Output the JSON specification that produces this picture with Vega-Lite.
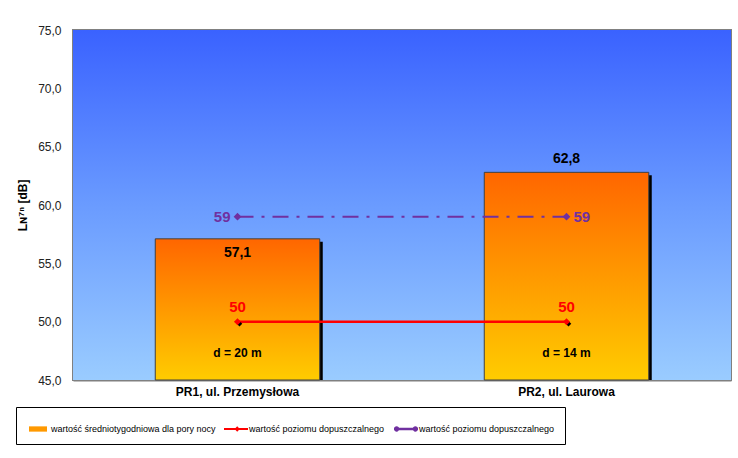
{
  "$schema": "https://vega.github.io/schema/vega-lite/v6.json",
  "autosize": "none",
  "width": 658,
  "height": 350,
  "padding": {"left": 73, "top": 30, "right": 7, "bottom": 78},
  "background": "white",
  "config": {
    "locale": {"number": {"decimal": ",", "thousands": " ", "grouping": [3], "currency": ["", " zł"]}},
    "font": "Liberation Sans",
    "view": {"stroke": "#808080", "strokeWidth": 2},
    "legend": {
      "orient": "none",
      "legendX": -57,
      "legendY": 377,
      "direction": "horizontal",
      "strokeColor": "#000000",
      "padding": 10,
      "columnPadding": 8,
      "labelOffset": 1,
      "labelFont": "Liberation Sans",
      "labelFontSize": 9,
      "labelColor": "#000000",
      "symbolSize": 576,
      "symbolStrokeWidth": 0,
      "labelLimit": 400
    }
  },
  "datasets": {
    "bars": [
      {"site": "PR1, ul. Przemysłowa", "value": 57.1, "d": "d = 20 m", "limit": 50, "limit2": 59},
      {"site": "PR2, ul. Laurowa", "value": 62.8, "d": "d = 14 m", "limit": 50, "limit2": 59}
    ],
    "legend": [
      {"series": "s1", "site": "PR1, ul. Przemysłowa", "v": 30},
      {"series": "s2", "site": "PR1, ul. Przemysłowa", "v": 30},
      {"series": "s3", "site": "PR1, ul. Przemysłowa", "v": 30}
    ]
  },
  "data": {"name": "bars"},
  "encoding": {
    "x": {
      "field": "site",
      "type": "nominal",
      "sort": null,
      "scale": {"paddingInner": 0, "paddingOuter": 0},
      "axis": {
        "title": null,
        "labelAngle": 0,
        "labelFont": "Liberation Sans",
        "labelFontWeight": "bold",
        "labelFontSize": 12,
        "labelColor": "#000000",
        "labelPadding": 6,
        "ticks": false,
        "domainColor": "#808080",
        "domainWidth": 2
      }
    }
  },
  "layer": [
    {
      "mark": {
        "type": "rect",
        "color": {
          "gradient": "linear", "x1": 0, "y1": 0, "x2": 0, "y2": 1,
          "stops": [{"offset": 0, "color": "#3A62FF"}, {"offset": 0.5, "color": "#6A9BFF"}, {"offset": 1, "color": "#9ACCFF"}]
        }
      },
      "encoding": {
        "x": null,
        "y": {
          "datum": 75,
          "type": "quantitative",
          "scale": {"domain": [45, 75], "nice": false, "zero": false},
          "axis": {
            "values": [45, 50, 55, 60, 65, 70, 75],
            "format": ".1f",
            "title": "Lɴ⁷ⁿ [dB]",
            "titleFont": "Liberation Sans",
            "titleFontSize": 12,
            "titleFontWeight": "bold",
            "titleColor": "#000000",
            "titlePadding": 8,
            "labelFont": "Liberation Sans",
            "labelFontSize": 12,
            "labelColor": "#222222",
            "labelPadding": 12,
            "grid": false,
            "ticks": false,
            "domainColor": "#808080",
            "domainWidth": 2
          }
        },
        "y2": {"datum": 45}
      }
    },
    {
      "mark": {"type": "bar", "color": "#000000", "width": {"band": 0.5}, "xOffset": 3, "yOffset": 3, "clip": true},
      "encoding": {"y": {"field": "value", "type": "quantitative"}, "y2": {"datum": 45}}
    },
    {
      "mark": {
        "type": "bar",
        "width": {"band": 0.5},
        "stroke": "#404040",
        "strokeWidth": 1,
        "color": {
          "gradient": "linear", "x1": 0, "y1": 0, "x2": 0, "y2": 1,
          "stops": [{"offset": 0, "color": "#FF6600"}, {"offset": 1, "color": "#FFCC00"}]
        }
      },
      "encoding": {"y": {"field": "value", "type": "quantitative"}, "y2": {"datum": 45}}
    },
    {
      "mark": {
        "type": "text", "fontWeight": "bold", "fontSize": 14, "color": "#000000",
        "dy": {"expr": "datum.value < 60 ? 14 : -13"}
      },
      "encoding": {
        "y": {"field": "value", "type": "quantitative"},
        "text": {"field": "value", "type": "quantitative", "format": ".1f"}
      }
    },
    {
      "mark": {"type": "text", "fontWeight": "bold", "fontSize": 12, "color": "#000000"},
      "encoding": {"y": {"datum": 47.3}, "text": {"field": "d"}}
    },
    {
      "mark": {"type": "line", "color": "#FF0000", "strokeWidth": 2.5},
      "encoding": {"y": {"field": "limit", "type": "quantitative"}}
    },
    {
      "mark": {"type": "point", "shape": "diamond", "filled": true, "color": "#000000", "size": 30, "opacity": 1, "xOffset": 2, "yOffset": 2},
      "encoding": {"y": {"field": "limit", "type": "quantitative"}}
    },
    {
      "mark": {"type": "point", "shape": "diamond", "filled": true, "color": "#FF0000", "size": 50, "opacity": 1},
      "encoding": {"y": {"field": "limit", "type": "quantitative"}}
    },
    {
      "mark": {"type": "text", "fontWeight": "bold", "fontSize": 15, "color": "#FF0000", "dy": -15},
      "encoding": {"y": {"field": "limit", "type": "quantitative"}, "text": {"field": "limit"}}
    },
    {
      "mark": {"type": "line", "color": "#7030A0", "strokeWidth": 2, "strokeDash": [16, 8, 3, 8]},
      "encoding": {"y": {"field": "limit2", "type": "quantitative"}}
    },
    {
      "mark": {"type": "point", "shape": "diamond", "filled": true, "color": "#7030A0", "size": 60, "opacity": 1},
      "encoding": {"y": {"field": "limit2", "type": "quantitative"}}
    },
    {
      "mark": {
        "type": "text", "fontWeight": "bold", "fontSize": 15, "color": "#7030A0",
        "align": {"expr": "datum.value < 60 ? 'right' : 'left'"},
        "dx": {"expr": "datum.value < 60 ? -7 : 7"}
      },
      "encoding": {"y": {"field": "limit2", "type": "quantitative"}, "text": {"field": "limit2"}}
    },
    {
      "data": {"name": "legend"},
      "mark": {"type": "point", "filled": true, "opacity": 1, "clip": true},
      "encoding": {
        "y": {"field": "v", "type": "quantitative"},
        "color": {
          "field": "series",
          "type": "nominal",
          "scale": {"domain": ["s1", "s2", "s3"], "range": ["#FF9900", "#FF0000", "#7030A0"]},
          "legend": {
            "title": null,
            "labelExpr": "datum.value === 's1' ? 'wartość średniotygodniowa dla pory nocy' : 'wartość poziomu dopuszczalnego'",
            "encode": {
              "symbols": {
                "update": {
                  "fill": [
                    {"test": "datum.value === 's1'", "value": {"gradient": "linear", "x1": 0, "y1": 0, "x2": 0, "y2": 1, "stops": [{"offset": 0, "color": "#FF6600"}, {"offset": 1, "color": "#FFCC00"}]}},
                    {"scale": "color", "field": "value"}
                  ],
                  "stroke": [
                    {"test": "datum.value === 's1'", "value": "#000000"},
                    {"value": "transparent"}
                  ],
                  "strokeWidth": {"value": 1}
                }
              }
            }
          }
        },
        "shape": {
          "field": "series",
          "type": "nominal",
          "scale": {
            "domain": ["s1", "s2", "s3"],
            "range": [
              "M-0.75,-0.22H0.75V0.22H-0.75Z",
              "M-1,-0.08H1V0.08H-1Z M0.1,-0.22L0.32,0L0.1,0.22L-0.12,0Z",
              "M-1,-0.1H1V0.1H-1Z M-1,0A0.22,0.22 0 1,1 -0.56,0A0.22,0.22 0 1,1 -1,0Z M0.56,0A0.22,0.22 0 1,1 1,0A0.22,0.22 0 1,1 0.56,0Z"
            ]
          },
          "legend": {
            "title": null,
            "labelExpr": "datum.value === 's1' ? 'wartość średniotygodniowa dla pory nocy' : 'wartość poziomu dopuszczalnego'",
            "encode": {
              "symbols": {
                "update": {
                  "fill": [
                    {"test": "datum.value === 's1'", "value": {"gradient": "linear", "x1": 0, "y1": 0, "x2": 0, "y2": 1, "stops": [{"offset": 0, "color": "#FF6600"}, {"offset": 1, "color": "#FFCC00"}]}},
                    {"scale": "color", "field": "value"}
                  ],
                  "stroke": [
                    {"test": "datum.value === 's1'", "value": "#000000"},
                    {"value": "transparent"}
                  ],
                  "strokeWidth": {"value": 1}
                }
              }
            }
          }
        }
      }
    }
  ]
}
